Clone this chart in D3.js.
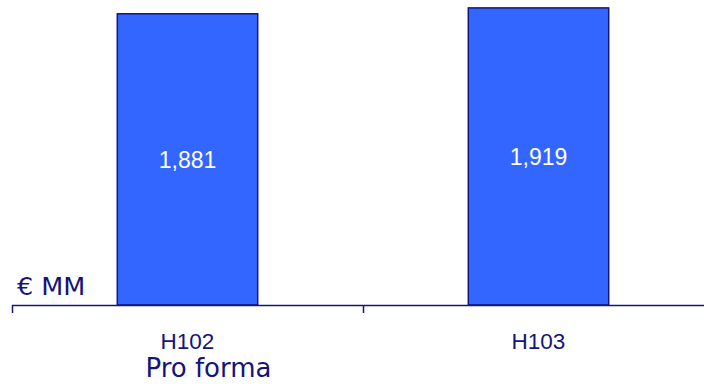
<!DOCTYPE html>
<html>
<head>
<meta charset="utf-8">
<script src="https://cdn.jsdelivr.net/npm/d3@7"></script>
<style>
  body { margin: 0; background: #fff; }
  svg { display: block; }
</style>
</head>
<body>
<div id="chart"></div>
<script>
// data
var categories = ['H102', 'H103'];
var subLabels = ['Pro forma', ''];
var values = [1881, 1919];
var unitLabel = '€ MM';

var width = 704;
var height = 384;
var baseY = 305;
var navy = '#14147a';

var svg = d3.select('#chart').append('svg')
    .attr('width', width)
    .attr('height', height);

var x = d3.scaleBand()
    .domain(categories)
    .range([12, 714])
    .paddingInner(0.6)
    .paddingOuter(0.3);

var y = d3.scaleLinear()
    .domain([0, 1970])
    .range([baseY, 0]);

// bars
svg.selectAll('rect.bar')
    .data(values)
    .enter()
    .append('rect')
    .attr('class', 'bar')
    .attr('x', (d, i) => x(categories[i]))
    .attr('y', d => y(d))
    .attr('width', x.bandwidth())
    .attr('height', d => baseY - y(d))
    .attr('fill', '#3366ff')
    .attr('stroke', navy)
    .attr('stroke-width', 1.5);

// value labels, centred in the bar
var fmt = d3.format(',');
svg.selectAll('text.val')
    .data(values)
    .enter()
    .append('text')
    .attr('class', 'val')
    .attr('x', (d, i) => x(categories[i]) + x.bandwidth() / 2)
    .attr('y', d => (y(d) + baseY) / 2 + 8.5)
    .attr('text-anchor', 'middle')
    .attr('fill', '#fff')
    .style('font-family', 'Liberation Sans, Arial, sans-serif')
    .style('font-size', '23px')
    .text(d => fmt(d));

// x axis: line and ticks at band edges
svg.append('line')
    .attr('x1', 12).attr('x2', width)
    .attr('y1', baseY + 0.5).attr('y2', baseY + 0.5)
    .attr('stroke', navy)
    .attr('stroke-width', 1.5);

var edges = categories.map(c => x(c) - x.step() * x.paddingInner() / 2);
edges[0] = 12;
svg.selectAll('line.tick')
    .data(edges)
    .enter()
    .append('line')
    .attr('class', 'tick')
    .attr('x1', d => Math.round(d) + 0.5)
    .attr('x2', d => Math.round(d) + 0.5)
    .attr('y1', baseY)
    .attr('y2', baseY + 8)
    .attr('stroke', navy)
    .attr('stroke-width', 1.5);

// category labels
svg.selectAll('text.cat')
    .data(categories)
    .enter()
    .append('text')
    .attr('class', 'cat')
    .attr('x', d => x(d) + x.bandwidth() / 2)
    .attr('y', 349)
    .attr('text-anchor', 'middle')
    .attr('fill', navy)
    .style('font-family', 'Liberation Sans, Arial, sans-serif')
    .style('font-size', '22.5px')
    .text(d => d);

svg.selectAll('text.sub')
    .data(subLabels)
    .enter()
    .append('text')
    .attr('class', 'sub')
    .attr('x', (d, i) => x(categories[i]) + x.bandwidth() / 2 + 21)
    .attr('y', 377)
    .attr('text-anchor', 'middle')
    .attr('fill', navy)
    .style('font-family', 'DejaVu Sans, Verdana, sans-serif')
    .style('font-size', '26px')
    .text(d => d);

// unit label
svg.append('text')
    .attr('x', 17)
    .attr('y', 295)
    .attr('fill', navy)
    .style('font-family', 'DejaVu Sans, Verdana, sans-serif')
    .style('font-size', '25.5px')
    .text(unitLabel);
</script>
</body>
</html>
